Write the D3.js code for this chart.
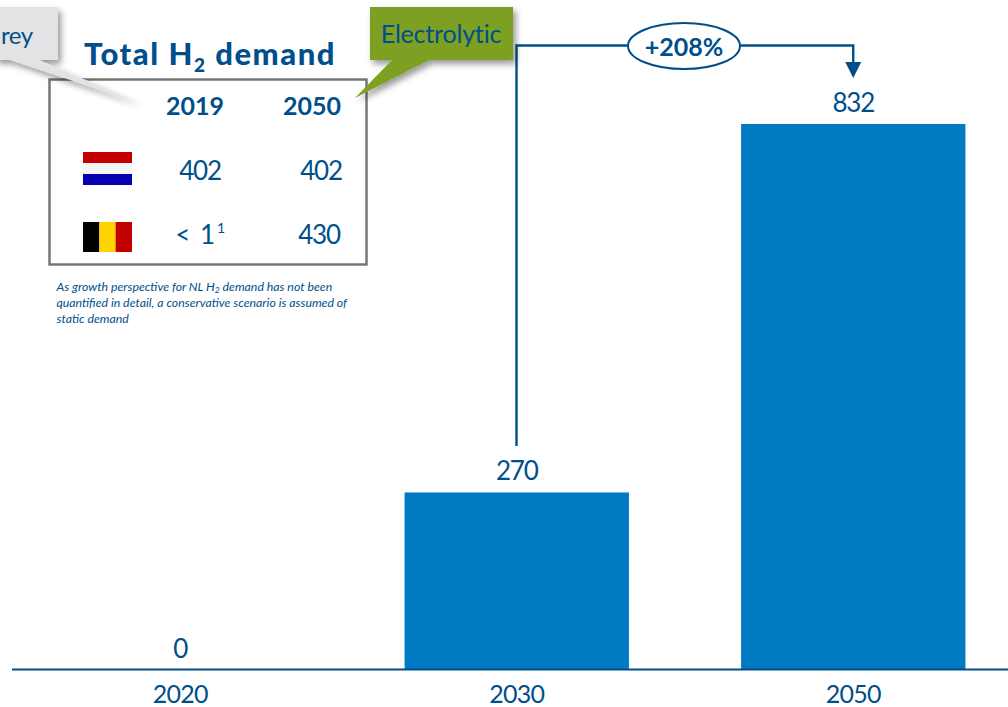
<!DOCTYPE html>
<html>
<head>
<meta charset="utf-8">
<script src="https://cdn.jsdelivr.net/npm/d3@7"></script>
<style>
    html, body { margin: 0; padding: 0; background: #fff; }
    svg { display: block; }
    text { font-family: Lato, "Open Sans", sans-serif; fill: #004f8b; }
</style>
</head>
<body>
<div id="chart"></div>
<script>
const categories = ["2020", "2030", "2050"];
const demand = [0, 270, 832];
const tableYears = ["2019", "2050"];
const tableNL = ["402", "402"];
const tableBE = ["< 1", "430"];
const growthLabel = "+208%";
const noteLines = [
    ["As growth perspective for NL H", "2", " demand has not been"],
    ["quantified in detail, a conservative scenario is assumed of"],
    ["static demand"]
];

const width = 1008, height = 707;
const blue = "#004f8b", barBlue = "#007bc3";

const svg = d3.select("#chart").append("svg")
    .attr("width", width)
    .attr("height", height);

const shadow = svg.append("defs").append("filter")
    .attr("id", "shadow")
    .attr("x", "-20%").attr("y", "-20%")
    .attr("width", "150%").attr("height", "150%");
shadow.append("feDropShadow")
    .attr("dx", 3).attr("dy", 4)
    .attr("stdDeviation", 3)
    .attr("flood-color", "#000")
    .attr("flood-opacity", 0.4);

const xScale = d3.scaleBand()
    .domain(categories)
    .range([12, 1021.5])
    .paddingInner(1 / 3)
    .paddingOuter(1 / 6);

const yScale = d3.scaleLinear()
    .domain([0, 832])
    .range([669.5, 124]);

// bars
svg.selectAll("rect.bar")
    .data(categories)
    .join("rect")
    .attr("class", "bar")
    .attr("x", d => xScale(d))
    .attr("y", (d, i) => yScale(demand[i]))
    .attr("width", xScale.bandwidth())
    .attr("height", (d, i) => yScale(0) - yScale(demand[i]))
    .attr("fill", barBlue);

svg.selectAll("text.value")
    .data(categories)
    .join("text")
    .attr("class", "value")
    .attr("x", d => xScale(d) + xScale.bandwidth() / 2)
    .attr("y", (d, i) => yScale(demand[i]) - 12)
    .attr("text-anchor", "middle")
    .attr("font-size", 26)
    .attr("letter-spacing", -1.2)
    .text((d, i) => demand[i]);

// axis
const axis = svg.append("g")
    .attr("transform", `translate(0,${yScale(0)})`)
    .call(d3.axisBottom(xScale).tickSize(0).tickPadding(16));
axis.select(".domain")
    .attr("d", "M12,0H1008")
    .attr("stroke", blue)
    .attr("stroke-width", 2.2);
axis.selectAll("text")
    .style("font-family", "Lato, sans-serif")
    .style("font-size", "25px")
    .style("letter-spacing", "-0.8px")
    .style("fill", blue);

// growth connector
const connX1 = 516.5, connX2 = xScale("2050") + xScale.bandwidth() / 2, connY = 45.5;
svg.append("path")
    .attr("d", `M${connX1} 446V${connY}H${connX2}V64`)
    .attr("fill", "none")
    .attr("stroke", blue)
    .attr("stroke-width", 2.4);
svg.append("path")
    .attr("d", `M${connX2 - 8} 62H${connX2 + 8}L${connX2} 78Z`)
    .attr("fill", blue);
svg.append("ellipse")
    .attr("cx", 684).attr("cy", 46)
    .attr("rx", 56).attr("ry", 23)
    .attr("fill", "#fff")
    .attr("stroke", blue)
    .attr("stroke-width", 2);
svg.append("text")
    .attr("x", 684).attr("y", 56)
    .attr("text-anchor", "middle")
    .attr("font-size", 25)
    .attr("font-weight", 700)
    .text(growthLabel);

// demand table
const title = svg.append("text")
    .attr("x", 84).attr("y", 65)
    .attr("font-size", 31)
    .attr("font-weight", 900)
    .attr("letter-spacing", 1.5);
title.append("tspan").text("Total H");
title.append("tspan").attr("dy", 7).attr("font-size", 19).text("2");
title.append("tspan").attr("dy", -7).text(" demand");

svg.append("rect")
    .attr("x", 49.5).attr("y", 79.5)
    .attr("width", 317).attr("height", 185)
    .attr("fill", "#fff")
    .attr("stroke", "#767676")
    .attr("stroke-width", 2.5);

svg.selectAll("text.year")
    .data(tableYears)
    .join("text")
    .attr("class", "year")
    .attr("x", (d, i) => [195, 312][i])
    .attr("y", 115)
    .attr("text-anchor", "middle")
    .attr("font-size", 25)
    .attr("font-weight", 700)
    .text(d => d);

svg.selectAll("text.nl")
    .data(tableNL)
    .join("text")
    .attr("class", "nl")
    .attr("x", (d, i) => [200, 321][i])
    .attr("y", 180)
    .attr("text-anchor", "middle")
    .attr("font-size", 26)
    .attr("letter-spacing", -1.2)
    .text(d => d);

svg.selectAll("text.be")
    .data(tableBE)
    .join("text")
    .attr("class", "be")
    .attr("x", (d, i) => [196, 319][i])
    .attr("y", 244)
    .attr("text-anchor", "middle")
    .attr("font-size", 26)
    .attr("letter-spacing", (d, i) => i === 0 ? 1.5 : -1.2)
    .text(d => d);
svg.append("text")
    .attr("x", 221).attr("y", 233)
    .attr("text-anchor", "middle")
    .attr("font-size", 14)
    .text("1");

// flags
[["#c30000", 152], ["#f6f6f8", 163], ["#0600b0", 174]].forEach(([c, y]) => {
    svg.append("rect").attr("x", 83).attr("y", y).attr("width", 49).attr("height", 11).attr("fill", c);
});
[["#000", 83], ["#ffd400", 99.3], ["#c30000", 115.6]].forEach(([c, x]) => {
    svg.append("rect").attr("x", x).attr("y", 222).attr("width", 16.4).attr("height", 30).attr("fill", c);
});

// footnote
noteLines.forEach((line, i) => {
    const t = svg.append("text")
        .attr("x", 56.5)
        .attr("y", 291 + i * 16)
        .attr("font-size", 12.3)
        .attr("font-style", "italic");
    line.forEach((part, j) => {
        const sub = part === "2";
        t.append("tspan")
            .attr("dy", sub ? 2 : (j > 0 ? -2 : 0))
            .attr("font-size", sub ? 8.5 : 12.3)
            .text(part);
    });
});

// callouts
svg.append("path")
    .attr("d", "M-5 7H58V60H39L140 103L10 60H-5Z")
    .attr("fill", "#e3e2e4")
    .attr("filter", "url(#shadow)");
svg.append("text")
    .attr("x", 1).attr("y", 44)
    .attr("font-size", 24)
    .attr("letter-spacing", -0.4)
    .text("rey");

svg.append("path")
    .attr("d", "M370 7H513V60H429L355 98L392 60H370Z")
    .attr("fill", "#7da024")
    .attr("filter", "url(#shadow)");
svg.append("text")
    .attr("x", 441).attr("y", 43)
    .attr("text-anchor", "middle")
    .attr("font-size", 25)
    .attr("letter-spacing", -0.2)
    .text("Electrolytic");
</script>
</body>
</html>
